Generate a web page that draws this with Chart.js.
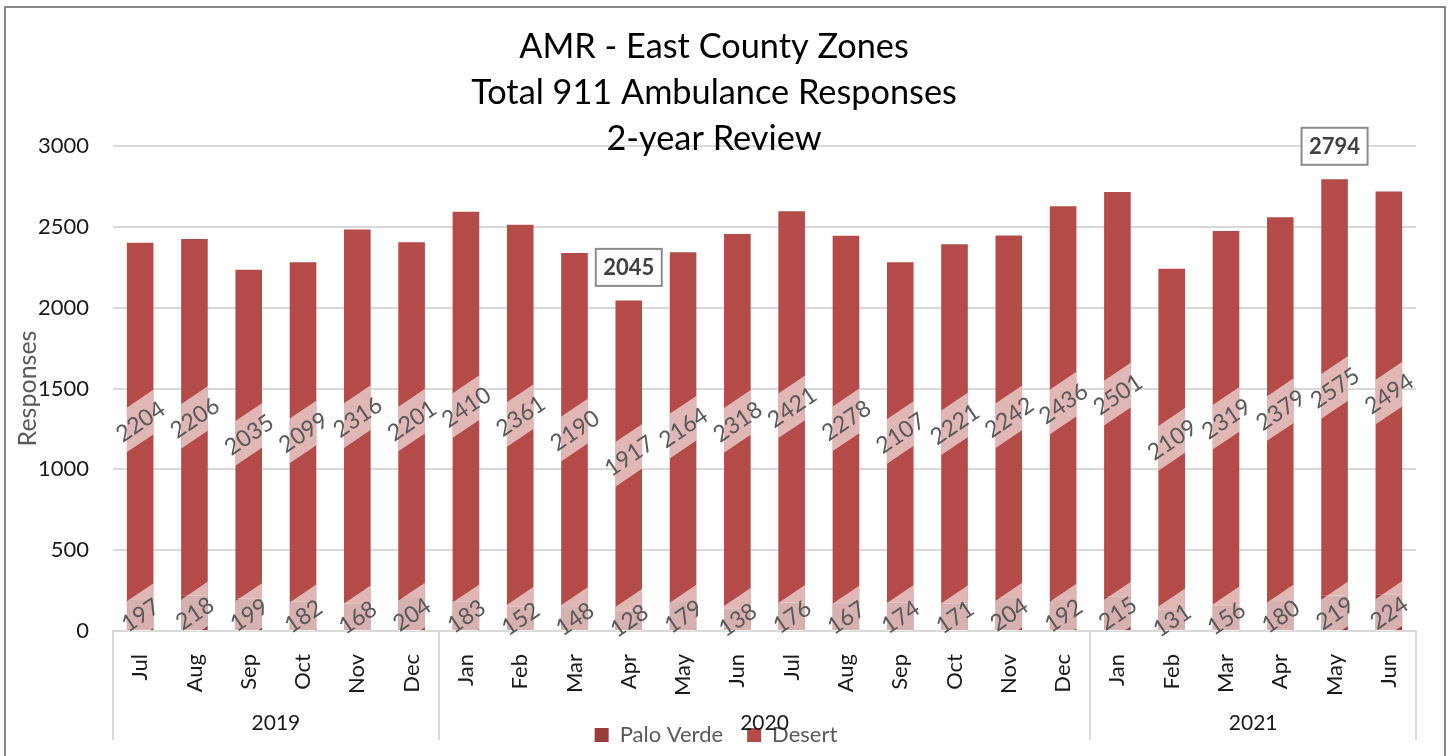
<!DOCTYPE html>
<html><head><meta charset="utf-8">
<script src="https://cdn.jsdelivr.net/npm/chart.js@4.4.1/dist/chart.umd.min.js"></script>
<style>html,body{margin:0;padding:0;background:#fff;overflow:hidden}
#wrap{position:absolute;left:0;top:0;width:1452px;height:756px}</style>
</head><body><div id="wrap"><canvas id="c" width="1452" height="756"></canvas></div>
<script>
const months = ['Jul','Aug','Sep','Oct','Nov','Dec','Jan','Feb','Mar','Apr','May','Jun','Jul','Aug','Sep','Oct','Nov','Dec','Jan','Feb','Mar','Apr','May','Jun'];
const yearLabels = ['2019','2020','2021'];
const yearCounts = [6, 12, 6];
const paloVerde = [197,218,199,182,168,204,183,152,148,128,179,138,176,167,174,171,204,192,215,131,156,180,219,224];
const desert = [2204,2206,2035,2099,2316,2201,2410,2361,2190,1917,2164,2318,2421,2278,2107,2221,2242,2436,2501,2109,2319,2379,2575,2494];
const yTicks = [0,500,1000,1500,2000,2500,3000];
const titleLines = ['AMR - East County Zones','Total 911 Ambulance Responses','2-year Review'];

const FONT = 'Lato';

const framePlugin = {
  id:'frame',
  beforeDraw(chart){
    const ctx = chart.ctx;
    ctx.save();
    ctx.fillStyle = '#fff';
    ctx.fillRect(0,0,chart.width,chart.height);
    ctx.strokeStyle = '#878787';
    ctx.lineWidth = 2;
    ctx.strokeRect(5,7,1440,800);
    ctx.restore();
  }
};

const groupPlugin = {
  id:'groups',
  afterDraw(chart){
    const ctx = chart.ctx, xs = chart.scales.x, ca = chart.chartArea;
    const half = (xs.getPixelForValue(1) - xs.getPixelForValue(0)) / 2;
    ctx.save();
    ctx.strokeStyle = '#D9D9D9';
    ctx.lineWidth = 2;
    ctx.fillStyle = '#1a1a1a';
    ctx.font = '21px ' + FONT;
    ctx.textAlign = 'center';
    ctx.textBaseline = 'middle';
    let start = 0;
    const bounds = [];
    yearCounts.forEach((n, g) => {
      const x0 = xs.getPixelForValue(start) - half;
      const x1 = xs.getPixelForValue(start + n - 1) + half;
      bounds.push(x0, x1);
      ctx.fillText(yearLabels[g], (x0 + x1) / 2, 723);
      start += n;
    });
    [...new Set(bounds.map(b => Math.round(b)))].forEach(b => {
      ctx.beginPath(); ctx.moveTo(b, ca.bottom); ctx.lineTo(b, 740); ctx.stroke();
    });
    ctx.restore();
  }
};

const labelPlugin = {
  id:'dataLabels',
  afterDatasetsDraw(chart){
    const ctx = chart.ctx, ca = chart.chartArea;
    const ang = -34 * Math.PI / 180;
    const items = [];
    chart.data.datasets.forEach((ds, di) => {
      const meta = chart.getDatasetMeta(di);
      meta.data.forEach((bar, i) => {
        const p = bar.getProps(['x','y','base','width'], true);
        const cy = (p.y + p.base) / 2;
        items.push({x:p.x, cy, w:p.width, v:ds.data[i]});
        ctx.save();
        ctx.beginPath();
        ctx.rect(p.x - p.width/2, ca.top, p.width, ca.bottom - ca.top);
        ctx.clip();
        ctx.translate(p.x, cy);
        ctx.rotate(ang);
        ctx.fillStyle = 'rgba(255,255,255,0.6)';
        ctx.fillRect(-45, -18.5, 90, 37);
        ctx.restore();
      });
    });
    ctx.save();
    ctx.fillStyle = '#595959';
    ctx.font = '23px ' + FONT;
    ctx.textAlign = 'center';
    ctx.textBaseline = 'middle';
    items.forEach(it => {
      ctx.save();
      ctx.translate(it.x, it.cy);
      ctx.rotate(ang);
      ctx.fillText(String(it.v), 0, 1);
      ctx.restore();
    });
    ctx.restore();
    // totals for max and min
    const totals = paloVerde.map((v, i) => v + desert[i]);
    const maxI = totals.indexOf(Math.max(...totals));
    const minI = totals.indexOf(Math.min(...totals));
    const ys = chart.scales.y, xs = chart.scales.x;
    ctx.save();
    [minI, maxI].forEach(i => {
      const x = xs.getPixelForValue(i);
      const y = ys.getPixelForValue(totals[i]) - 33;
      ctx.fillStyle = '#fff';
      ctx.fillRect(x - 33, y - 18.5, 66, 37);
      ctx.strokeStyle = '#8a8a8a';
      ctx.lineWidth = 2;
      ctx.strokeRect(x - 33, y - 18.5, 66, 37);
      ctx.fillStyle = '#404040';
      ctx.font = 'bold 22px ' + FONT;
      ctx.textAlign = 'center';
      ctx.textBaseline = 'middle';
      ctx.fillText(String(totals[i]), x, y + 1);
    });
    ctx.restore();
  }
};

const titlePlugin = {
  id:'titleLines',
  afterDraw(chart){
    const ctx = chart.ctx;
    ctx.save();
    ctx.font = '34px ' + FONT;
    const w = ctx.measureText(titleLines[1]).width;
    const size = 34 * 486 / w;
    ctx.font = size.toFixed(2) + 'px ' + FONT;
    ctx.fillStyle = '#000';
    ctx.textAlign = 'center';
    ctx.textBaseline = 'middle';
    const ys = [47, 93, 139];
    titleLines.forEach((t, k) => ctx.fillText(t, 714, ys[k]));
    ctx.restore();
  }
};

new Chart(document.getElementById('c'), {
  type:'bar',
  data:{
    labels: months,
    datasets:[
      {label:'Palo Verde', data: paloVerde, backgroundColor:'#993C3B', borderWidth:0},
      {label:'Desert', data: desert, backgroundColor:'#B44B48', borderWidth:0}
    ]
  },
  options:{
    responsive:false,
    animation:false,
    devicePixelRatio:1,
    categoryPercentage:1,
    barPercentage:0.49,
    layout:{padding:{left:16, right:36, top:146, bottom:0}},
    plugins:{
      legend:{
        position:'bottom',
        labels:{font:{family:FONT, size:22}, color:'#595959', boxWidth:14, boxHeight:14, padding:24}
      },
      title:{display:false},
      tooltip:{enabled:false}
    },
    scales:{
      x:{
        stacked:true,
        grid:{display:false},
        border:{display:true, color:'#D9D9D9', width:2},
        ticks:{autoSkip:false, maxRotation:90, minRotation:90, padding:15, color:'#1a1a1a', font:{family:FONT, size:22}},
        afterFit(s){
          const lh = s.chart.legend ? s.chart.legend.height : 0;
          s.height = 756 - lh - 631;
        }
      },
      y:{
        stacked:true,
        min:0, max:3000,
        afterBuildTicks(s){ s.ticks = yTicks.map(v => ({value:v})); },
        grid:{color:'#D9D9D9', lineWidth:2, drawTicks:false},
        border:{display:false},
        ticks:{padding:24, color:'#1a1a1a', font:{family:FONT, size:22}, callback:(v) => String(v)},
        title:{display:true, text:'Responses', color:'#595959', font:{family:FONT, size:25, lineHeight:1}, padding:{top:-1, bottom:0}},
        afterFit(s){ s.width = 97; }
      }
    }
  },
  plugins:[framePlugin, labelPlugin, groupPlugin, titlePlugin]
});
</script></body></html>
